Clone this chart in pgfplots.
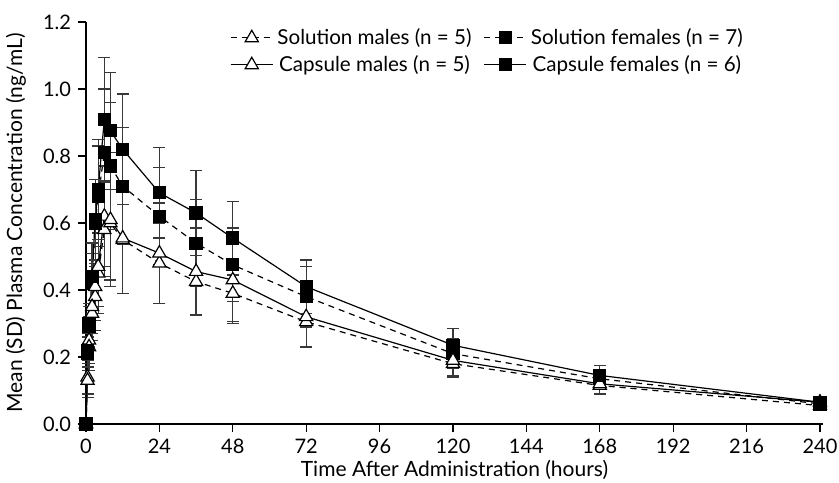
\documentclass[border=0pt]{standalone}
\usepackage{pgfplots}
\pgfplotsset{compat=1.18}
\usepackage{fontspec}
\setmainfont{Lato}
\definecolor{errgray}{HTML}{383838}
\pgfplotsset{sdbars/.style={error bars/.cd, y dir=both, y explicit,
    error mark=-,
    error bar style={errgray, line width=0.65pt, solid},
    error mark options={rotate=90, errgray, mark size=3pt, line width=0.65pt, solid}}}
\begin{document}
\begin{tikzpicture}
\begin{axis}[
  width=368.5pt, height=201pt, scale only axis,
  xmin=0, xmax=241, ymin=0, ymax=1.2,
  xtick={0,24,...,240}, ytick={0,0.2,0.4,0.6,0.8,1.0,1.2},
  axis lines=left, axis line style={-, line width=0.6pt},
  tick align=outside, tick style={black, line width=0.6pt},
  major tick length=4pt,
  /pgf/number format/assume math mode=true,
  yticklabel style={/pgf/number format/.cd, fixed, fixed zerofill, precision=1},
  ticklabel style={font=\fontsize{10}{12}\selectfont},
  xlabel={Time After Administration (hours)},
  ylabel={Mean (SD) Plasma Concentration (ng/mL)},
  label style={font=\fontsize{10.5}{12.5}\selectfont},
  xlabel style={at={(axis description cs:0.5,-0.113)}, anchor=center},
  ylabel style={at={(axis description cs:-0.095,0.5)}, anchor=center},
  clip=false,
  legend style={draw=none, fill=none, at={(0.195,0.995)}, anchor=north west,
    legend columns=2, font=\fontsize{10.3}{11.5}\selectfont,
    /tikz/every even column/.append style={column sep=4pt},
    row sep=0pt, inner sep=0pt},
  legend image code/.code={\draw[mark repeat=2, mark phase=2]
    plot coordinates {(0cm,0cm) (0.37cm,0cm) (0.74cm,0cm)};},
  every axis plot/.append style={line width=0.6pt, black},
]
% Solution males
\addplot[dash pattern=on 3pt off 2.5pt, mark=triangle*, mark size=3.8pt,
  mark options={solid, fill=white, draw=black}, sdbars] coordinates {
  (0,0) +- (0,0)
  (0.5,0.14) +- (0,0.05)
  (1,0.25) +- (0,0.07)
  (2,0.33) +- (0,0.08)
  (3,0.38) +- (0,0.10)
  (4,0.45) +- (0,0.12)
  (6,0.58) +- (0,0.14)
  (8,0.60) +- (0,0.17)
  (12,0.55) +- (0,0.16)
  (24,0.48) +- (0,0.12)
  (36,0.425) +- (0,0.10)
  (48,0.39) +- (0,0.09)
  (72,0.305) +- (0,0.075)
  (120,0.18) +- (0,0.04)
  (168,0.115) +- (0,0.025)
  (240,0.055) +- (0,0.01)
};
\addlegendentry{Solution males (n = 5)}
% Solution females
\addplot[dash pattern=on 3pt off 2.5pt, mark=square*, mark size=3pt,
  mark options={solid, fill=black}, sdbars] coordinates {
  (0,0) +- (0,0)
  (0.5,0.21) +- (0,0.05)
  (1,0.29) +- (0,0.06)
  (2,0.42) +- (0,0.09)
  (3,0.60) +- (0,0.13)
  (4,0.68) +- (0,0.15)
  (6,0.81) +- (0,0.19)
  (8,0.77) +- (0,0.19)
  (12,0.71) +- (0,0.175)
  (24,0.62) +- (0,0.145)
  (36,0.54) +- (0,0.13)
  (48,0.475) +- (0,0.11)
  (72,0.38) +- (0,0.09)
  (120,0.21) +- (0,0.045)
  (168,0.135) +- (0,0.025)
  (240,0.06) +- (0,0.01)
};
\addlegendentry{Solution females (n = 7)}
% Capsule males
\addplot[solid, mark=triangle*, mark size=3.8pt,
  mark options={solid, fill=white, draw=black}, sdbars] coordinates {
  (0,0) +- (0,0)
  (0.5,0.13) +- (0,0.05)
  (1,0.23) +- (0,0.07)
  (2,0.35) +- (0,0.08)
  (3,0.41) +- (0,0.10)
  (4,0.47) +- (0,0.12)
  (6,0.62) +- (0,0.15)
  (8,0.61) +- (0,0.20)
  (12,0.555) +- (0,0.165)
  (24,0.51) +- (0,0.15)
  (36,0.455) +- (0,0.13)
  (48,0.43) +- (0,0.125)
  (72,0.32) +- (0,0.09)
  (120,0.19) +- (0,0.045)
  (168,0.12) +- (0,0.028)
  (240,0.065) +- (0,0.01)
};
\addlegendentry{Capsule males (n = 5)}
% Capsule females
\addplot[solid, mark=square*, mark size=3pt,
  mark options={solid, fill=black}, sdbars] coordinates {
  (0,0) +- (0,0)
  (0.5,0.22) +- (0,0.05)
  (1,0.30) +- (0,0.06)
  (2,0.44) +- (0,0.10)
  (3,0.61) +- (0,0.12)
  (4,0.70) +- (0,0.15)
  (6,0.91) +- (0,0.185)
  (8,0.875) +- (0,0.175)
  (12,0.82) +- (0,0.165)
  (24,0.69) +- (0,0.135)
  (36,0.63) +- (0,0.127)
  (48,0.555) +- (0,0.11)
  (72,0.41) +- (0,0.08)
  (120,0.235) +- (0,0.05)
  (168,0.145) +- (0,0.03)
  (240,0.065) +- (0,0.01)
};
\addlegendentry{Capsule females (n = 6)}
\end{axis}
\pgfresetboundingbox
\useasboundingbox ([shift={(-43pt,-29pt)}]current axis.south west)
  rectangle ([shift={(8pt,11pt)}]current axis.north east);
\end{tikzpicture}
\end{document}
